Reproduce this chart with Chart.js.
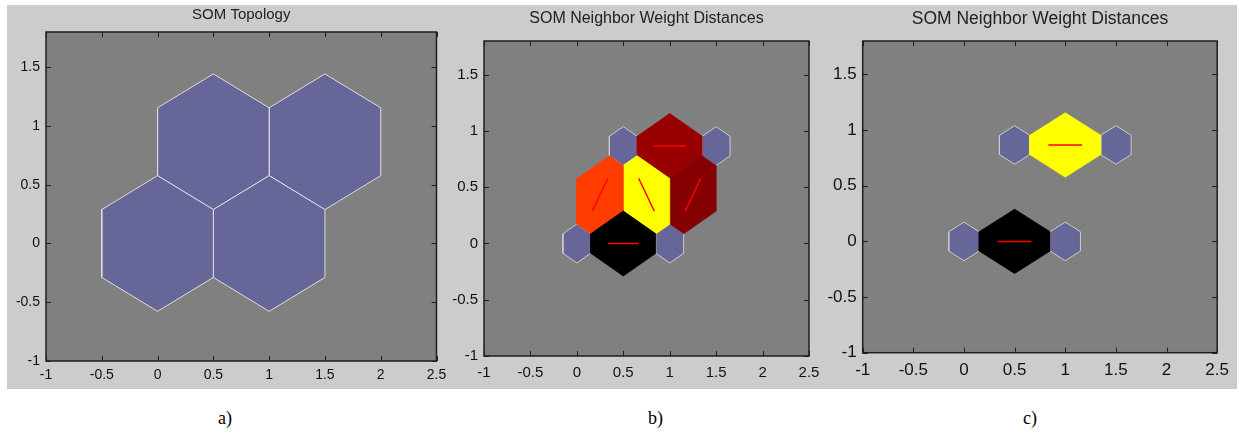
<!DOCTYPE html>
<html>
<head>
<meta charset="utf-8">
<script src="https://cdn.jsdelivr.net/npm/chart.js@4.4.1/dist/chart.umd.min.js"></script>
<style>
  body { margin: 0; background: #fff; width: 1239px; height: 436px; position: relative; overflow: hidden; }
  #figure { position: absolute; left: 7px; top: 5px; width: 1230px; height: 384px; background: #cccccc; }
  canvas { position: absolute; top: 5px; }
  .cap { position: absolute; top: 408px; font-family: "Liberation Serif", "Times New Roman", serif; font-size: 18px; color: #000; }
</style>
</head>
<body>
<div id="figure"></div>
<canvas id="topo" width="448" height="384" style="left:7px"></canvas>
<canvas id="ndB" width="395" height="384" style="left:440px"></canvas>
<canvas id="ndC" width="416" height="384" style="left:820px"></canvas>
<div class="cap" style="left:218px">a)</div>
<div class="cap" style="left:648px">b)</div>
<div class="cap" style="left:1023px">c)</div>

<script>
// --- data ---
const xTicks = [-1, -0.5, 0, 0.5, 1, 1.5, 2, 2.5];
const yTicks = [-1, -0.5, 0, 0.5, 1, 1.5];
const xRange = [-1, 2.5];
const yRange = [-1, 1.8];

// neuron positions of the 2x2 hexagonal map
const neuronX = [0, 1, 0.5, 1.5];
const neuronY = [0, 0, 0.866, 0.866];

// neighbour links (neuron index pairs) and their weight distance, 0 = small (yellow) .. 1 = large (black)
const linksB  = [[0, 1], [0, 2], [1, 2], [1, 3], [2, 3]];
const levelsB = [1.0, 0.38, 0.0, 0.74, 0.70];
const linksC  = [[0, 1], [2, 3]];
const levelsC = [1.0, 0.0];

// --- geometry / style ---
const BIG_R = 1 / Math.sqrt(3);   // topology cell radius
const SMALL_R = 0.1732;           // neuron marker radius
const NEURON_FILL = '#666699';
const FONT = '"Liberation Sans", Arial, sans-serif';

const deg = Math.PI / 180;
const offset = (x, y, r, a) => ({ x: x + r * Math.cos(a), y: y + r * Math.sin(a) });

function hexPoints(cx, cy, r) {
  const pts = [];
  for (let k = 0; k <= 6; k++) pts.push(offset(cx, cy, r, (30 + 60 * k) * deg));
  return pts;
}

// patch between two neighbouring neurons (fills the gap between their markers)
function linkPatch(a, b) {
  const ax = neuronX[a], ay = neuronY[a], bx = neuronX[b], by = neuronY[b];
  const t = Math.atan2(by - ay, bx - ax);
  const pts = [
    offset(ax, ay, SMALL_R, t - 30 * deg),
    offset(ax, ay, BIG_R, t - 30 * deg),
    offset(bx, by, SMALL_R, t + 210 * deg),
    offset(bx, by, SMALL_R, t + 150 * deg),
    offset(ax, ay, BIG_R, t + 30 * deg),
    offset(ax, ay, SMALL_R, t + 30 * deg)
  ];
  pts.push(pts[0]);
  return pts;
}

function linkLine(a, b) {
  const ax = neuronX[a], ay = neuronY[a], dx = neuronX[b] - ax, dy = neuronY[b] - ay;
  return [{ x: ax + dx / 3, y: ay + dy / 3 }, { x: ax + 2 * dx / 3, y: ay + 2 * dy / 3 }];
}

// yellow -> red -> black
function levelColor(l) {
  if (l <= 0.5) return `rgb(255,${Math.round(255 * (1 - 2 * l))},0)`;
  return `rgb(${Math.round(255 * (2 - 2 * l))},0,0)`;
}

function polygon(points, fill, edge, width) {
  return {
    data: points, fill: 'shape', backgroundColor: fill, borderColor: edge, borderWidth: width,
    pointRadius: 0, pointHoverRadius: 0, tension: 0
  };
}

function segment(points) {
  return { data: points, fill: false, borderColor: '#ff0000', borderWidth: 1.5, pointRadius: 0, pointHoverRadius: 0 };
}

function neighborDatasets(links, levels) {
  const lines = links.map(([a, b]) => segment(linkLine(a, b)));
  const patches = links.map(([a, b], i) => polygon(linkPatch(a, b), levelColor(levels[i]), levelColor(levels[i]), 0.8));
  const markers = neuronX.map((x, i) => polygon(hexPoints(x, neuronY[i], SMALL_R), NEURON_FILL, '#cccccc', 1));
  return [...lines, ...patches, ...markers];
}

// grey axes area, box and inward ticks like MATLAB
const matlabAxes = {
  id: 'matlabAxes',
  beforeDatasetsDraw(chart) {
    const { ctx, chartArea: a } = chart;
    ctx.save();
    ctx.fillStyle = '#808080';
    ctx.fillRect(a.left, a.top, a.right - a.left, a.bottom - a.top);
    ctx.restore();
  },
  afterDatasetsDraw(chart) {
    const { ctx, chartArea: a, scales: { x, y } } = chart;
    ctx.save();
    ctx.strokeStyle = '#1e1e1e';
    ctx.lineWidth = 1;
    ctx.beginPath();
    xTicks.forEach(v => {
      const px = Math.round(x.getPixelForValue(v)) + 0.5;
      ctx.moveTo(px, a.bottom); ctx.lineTo(px, a.bottom - 5);
      ctx.moveTo(px, a.top); ctx.lineTo(px, a.top + 5);
    });
    yTicks.forEach(v => {
      const py = Math.round(y.getPixelForValue(v)) + 0.5;
      ctx.moveTo(a.left, py); ctx.lineTo(a.left + 5, py);
      ctx.moveTo(a.right, py); ctx.lineTo(a.right - 5, py);
    });
    ctx.stroke();
    ctx.lineWidth = 1.5;
    ctx.strokeRect(a.left, a.top, a.right - a.left, a.bottom - a.top);
    ctx.restore();
  }
};

function makeChart(id, datasets, cfg) {
  const tickFont = { family: FONT, size: cfg.tickSize };
  new Chart(document.getElementById(id), {
    type: 'line',
    data: { datasets },
    plugins: [matlabAxes],
    options: {
      responsive: false,
      animation: false,
      devicePixelRatio: 1,
      layout: { padding: { left: 0, right: cfg.padRight, top: 0, bottom: 0 } },
      plugins: {
        legend: { display: false },
        tooltip: { enabled: false },
        title: {
          display: true, text: cfg.title, fullSize: false, color: '#222',
          font: { family: FONT, size: cfg.titleSize, weight: 'normal', lineHeight: 1.2 },
          padding: { top: cfg.titleTop, bottom: cfg.titleBottom }
        }
      },
      scales: {
        x: {
          type: 'linear', min: xRange[0], max: xRange[1],
          grid: { display: false, drawTicks: false }, border: { display: false },
          afterBuildTicks: s => { s.ticks = xTicks.map(v => ({ value: v })); },
          afterFit: s => { s.height = cfg.xHeight; },
          ticks: { font: tickFont, color: '#111', padding: cfg.xPad, maxRotation: 0, autoSkip: false, callback: v => String(v) }
        },
        y: {
          type: 'linear', min: yRange[0], max: yRange[1],
          grid: { display: false, drawTicks: false }, border: { display: false },
          afterBuildTicks: s => { s.ticks = yTicks.map(v => ({ value: v })); },
          afterFit: s => { s.width = cfg.yWidth; },
          ticks: { font: tickFont, color: '#111', padding: 6, autoSkip: false, callback: v => String(v) }
        }
      }
    }
  });
}

// a) topology
makeChart('topo',
  neuronX.map((x, i) => polygon(hexPoints(x, neuronY[i], BIG_R), NEURON_FILL, '#dddddd', 1)),
  { title: 'SOM Topology', titleSize: 15, titleTop: 1, titleBottom: 8, tickSize: 14,
    yWidth: 39, xHeight: 28, padRight: 18.5, xPad: 6 });

// b) neighbour weight distances
makeChart('ndB', neighborDatasets(linksB, levelsB),
  { title: 'SOM Neighbor Weight Distances', titleSize: 16, titleTop: 4.4, titleBottom: 12.4, tickSize: 15,
    yWidth: 44, xHeight: 33, padRight: 26, xPad: 8 });

// c) neighbour weight distances
makeChart('ndC', neighborDatasets(linksC, levelsC),
  { title: 'SOM Neighbor Weight Distances', titleSize: 17.5, titleTop: 3.5, titleBottom: 11.5, tickSize: 17,
    yWidth: 42.7, xHeight: 36.3, padRight: 13.5, xPad: 7 });
</script>
</body>
</html>
